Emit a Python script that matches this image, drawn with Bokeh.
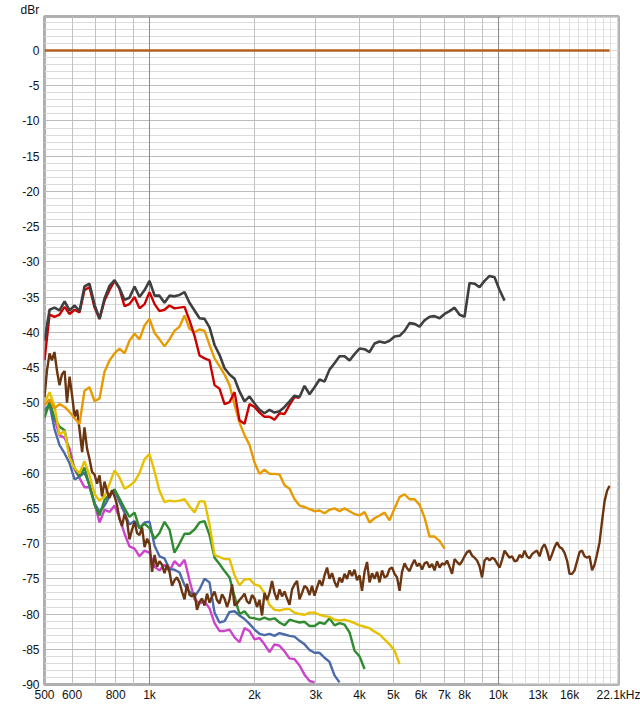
from bokeh.plotting import figure
from bokeh.models import FixedTicker, Grid, BoxAnnotation, Range1d
from bokeh.embed import file_html
from bokeh.resources import INLINE

# frequency grid (Hz); smooth traces use every second point
freq = [
    500, 508, 517, 525, 534, 543, 552, 561, 571, 580, 590, 600, 610, 620, 630, 641, 651, 662, 673, 684, 696,
    707, 719, 731, 743, 755, 768, 781, 794, 807, 820, 834, 848, 862, 876, 891, 906, 921, 936, 952, 968, 984,
    1000, 1017, 1034, 1051, 1068, 1086, 1104, 1122, 1141, 1160, 1179, 1199, 1219, 1239, 1260, 1281, 1302, 1324,
    1346, 1368, 1391, 1414, 1438, 1462, 1486, 1511, 1536, 1561, 1587, 1614, 1641, 1668, 1696, 1724, 1753, 1782,
    1811, 1842, 1872, 1903, 1935, 1967,
    2000, 2033, 2067, 2102, 2136, 2172, 2208, 2245, 2282, 2320, 2359, 2398, 2438, 2479, 2520, 2562, 2604, 2648,
    2692, 2737, 2782, 2828, 2876, 2923, 2972, 3022, 3072, 3123, 3175, 3228, 3281, 3336, 3391, 3448, 3505, 3563,
    3623, 3683, 3745, 3807, 3870, 3934,
    4000, 4066, 4134, 4203, 4273, 4344, 4416, 4490, 4565, 4641, 4718, 4796, 4876, 4957, 5040, 5124, 5209, 5295,
    5384, 5473, 5564, 5657, 5751, 5846, 5944, 6043, 6143, 6245, 6350, 6455, 6563, 6672, 6783, 6896, 7011, 7127,
    7246, 7367, 7489, 7614, 7740, 7869,
    8000, 8133, 8269, 8406, 8546, 8688, 8833, 8980, 9129, 9281, 9436, 9593, 9752, 9914, 10079, 10247, 10418,
    10591, 10767, 10946, 11128, 11313, 11502, 11693, 11888, 12085, 12287, 12491, 12699, 12910, 13125, 13343,
    13566, 13791, 14021, 14254, 14492, 14733, 14978, 15227, 15481, 15738,
    16000, 16266, 16537, 16812, 17091, 17376, 17665, 17958, 18258, 18562, 18870, 19184, 19504, 19828, 20158,
    20493, 20834,
]

flat_freq = [500, 20834]
flat_db = [0, 0]

grey_db = [
    -41.2, -36.8, -36.5, -36.9, -35.6, -36.9, -36.2, -37.0, -33.5, -33.1,
    -36.1, -38.1, -35.2, -33.4, -32.6, -33.7, -35.4, -35.1, -33.5, -35.0,
    -34.0, -32.7, -34.8, -34.8, -35.8, -34.8, -34.9, -34.7, -34.3, -35.8,
    -36.9, -38.0, -38.1, -39.3, -41.8, -43.2, -45.1, -46.0, -46.6, -48.4,
    -49.8, -49.1, -50.1, -51.0, -51.5, -51.0, -51.4, -51.2, -50.6, -49.8,
    -49.0, -49.2, -47.6, -48.8, -47.8, -46.7, -47.0, -45.3, -44.4, -43.4,
    -43.4, -44.0, -43.1, -42.3, -42.4, -42.8, -41.6, -41.3, -41.5, -41.2,
    -40.6, -40.5, -39.8, -38.7, -38.8, -39.2, -38.3, -37.8, -37.7, -38.0,
    -37.4, -37.0, -36.5, -37.5, -37.8, -33.0, -33.1, -33.6, -32.7, -32.0,
    -32.2, -34.0, -35.5,
]

red_db = [
    -44.0, -37.5, -37.8, -37.5, -36.4, -37.4, -36.8, -37.2, -34.0, -33.6,
    -36.5, -38.1, -35.5, -34.0, -32.7, -33.8, -36.3, -36.0, -35.0, -36.6,
    -36.0, -34.3, -36.0, -37.0, -36.8, -36.2, -36.6, -36.5, -36.4, -38.3,
    -40.5, -43.3, -43.7, -44.0, -47.5, -48.0, -50.2, -49.9, -48.5, -52.5,
    -53.0, -50.2, -50.6, -51.4, -52.0, -52.0, -52.4, -51.5, -51.6, -50.3,
    -49.2, -49.3,
]

orange_db = [
    -50.4, -49.5, -50.8, -50.2, -50.6, -51.3, -52.2, -53.0, -48.3, -47.8,
    -49.8, -49.4, -45.6, -44.0, -43.0, -42.3, -43.0, -41.2, -40.2, -41.0,
    -39.0, -38.1, -40.1, -41.0, -42.0, -41.0, -39.8, -39.2, -37.6, -39.5,
    -40.0, -39.6, -39.8, -41.8, -43.7, -44.8, -46.0, -47.5, -50.3, -52.8,
    -54.6, -56.0, -58.5, -60.1, -59.5, -60.1, -60.1, -60.2, -61.7, -62.2,
    -63.7, -64.6, -64.8, -65.1, -65.4, -65.3, -65.7, -65.2, -65.0, -65.4,
    -65.0, -65.4, -65.8, -66.0, -65.5, -67.0, -66.4, -66.0, -65.6, -66.7,
    -65.0, -63.4, -63.0, -63.7, -63.7, -64.5, -66.3, -69.0, -69.0, -69.6,
    -70.7,
]

yellow_db = [
    -50.0, -48.5, -50.5, -54.5, -54.0, -57.8, -59.3, -60.0, -58.3, -60.3,
    -63.0, -63.9, -63.3, -61.5, -59.6, -60.6, -62.2, -61.8, -61.2, -60.0,
    -58.0, -57.3, -59.8, -62.5, -64.1, -63.9, -64.0, -63.9, -63.7, -64.7,
    -65.6, -64.0, -64.0, -67.3, -71.6, -71.9, -72.2, -72.2, -74.5, -75.9,
    -75.1, -75.0, -75.8, -76.0, -77.0, -78.7, -79.4, -79.5, -79.3, -79.3,
    -79.8, -80.0, -80.1, -79.8, -79.8, -80.1, -80.3, -80.4, -80.8, -80.9,
    -80.8, -81.0, -81.3, -81.6, -81.8, -82.0, -82.5, -82.9, -83.6, -84.3,
    -85.2, -87.1,
]

green_db = [
    -52.1, -50.0, -52.2, -53.4, -53.9, -57.5, -59.3, -60.5, -59.2, -61.8,
    -64.5, -66.0, -63.8, -63.0, -62.3, -63.6, -65.0, -66.2, -65.6, -67.8,
    -67.2, -67.8, -69.3, -68.5, -66.9, -68.0, -71.3, -70.0, -68.6, -68.6,
    -68.0, -67.0, -66.8, -68.8, -72.0, -72.9, -73.9, -74.8, -77.5, -80.0,
    -79.6, -80.5, -80.6, -80.8, -80.5, -80.8, -80.6, -81.2, -81.6, -80.8,
    -81.0, -81.2, -81.1, -81.7, -81.7, -81.2, -81.4, -80.6, -81.6, -81.3,
    -81.5, -82.6, -85.2, -86.0, -87.8,
]

blue_db = [
    -51.1, -50.2, -53.7, -56.0, -57.2, -58.6, -60.9, -60.5, -59.9, -61.7,
    -64.3, -65.5, -64.6, -63.3, -62.4, -64.1, -65.6, -67.3, -66.8, -67.8,
    -67.0, -66.9, -70.3, -71.8, -72.1, -73.6, -73.7, -74.1, -75.9, -76.8,
    -77.5, -76.5, -75.0, -75.5, -79.8, -81.2, -81.0, -79.7, -79.6, -80.2,
    -80.7, -81.4, -82.2, -82.8, -83.0, -82.8, -83.1, -82.7, -82.9, -83.1,
    -83.2, -83.8, -84.3, -85.1, -85.5, -85.5, -86.2, -86.8, -88.7, -89.7,
]

magenta_db = [
    -50.1, -49.8, -52.3, -54.6, -55.0, -56.5, -59.5, -60.7, -62.0, -62.0,
    -64.3, -67.0, -65.2, -65.5, -64.6, -66.3, -68.6, -70.4, -70.7, -71.8,
    -71.0, -71.3, -73.3, -73.8, -73.0, -73.9, -72.5, -73.2, -72.3, -75.2,
    -77.9, -78.5, -78.2, -79.2, -81.3, -82.4, -82.4, -82.2, -83.3, -84.0,
    -82.0, -82.4, -83.6, -83.4, -84.3, -85.4, -84.3, -84.5, -85.3, -86.3,
    -86.4, -87.3, -88.6, -89.5, -89.7,
]

# brown trace uses the full (fine) frequency grid
brown_db = [
    -49.2, -45.5, -43.0, -44.0, -42.8, -45.5, -47.5, -46.0, -45.5, -50.0,
    -46.3, -49.0, -52.0, -51.0, -53.8, -57.0, -53.5, -56.5, -58.0, -59.8,
    -60.2, -61.5, -60.3, -63.3, -61.2, -62.5, -63.5, -62.4, -63.3, -64.5,
    -66.5, -67.5, -65.8, -66.8, -69.4, -68.0, -66.9, -68.5, -68.8, -67.7,
    -70.5, -69.3, -70.0, -74.0, -71.6, -73.3, -72.5, -73.0, -74.2, -73.0,
    -74.0, -76.0, -75.2, -74.8, -75.5, -76.8, -77.9, -75.7, -77.3, -77.5,
    -77.0, -79.4, -78.3, -77.8, -78.8, -77.1, -78.4, -77.5, -76.8, -78.0,
    -78.5, -77.2, -77.8, -79.0, -77.9, -75.8, -78.8, -78.5, -78.0, -77.6,
    -77.1, -78.2, -78.5, -77.3, -77.8, -79.0, -78.0, -80.2, -77.0, -78.0,
    -77.0, -75.3, -77.0, -78.0, -76.5, -77.5, -76.8, -77.8, -78.7, -76.5,
    -75.8, -75.3, -77.9, -77.0, -76.0, -76.3, -77.3, -76.0, -77.4, -76.2,
    -75.2, -76.0, -74.5, -73.4, -75.0, -74.2, -75.4, -76.2, -74.8, -75.5,
    -74.3, -75.0, -73.8, -74.6, -73.7, -75.2, -74.5, -76.7, -74.0, -72.6,
    -75.5, -74.2, -75.0, -74.0, -75.5, -73.8, -74.8, -74.6, -73.6, -73.4,
    -74.3, -74.8, -76.7, -74.0, -72.8, -73.5, -73.9, -73.0, -72.3, -73.2,
    -72.8, -73.7, -72.8, -72.6, -73.4, -72.9, -73.8, -72.5, -73.4, -72.8,
    -73.0, -72.4, -73.3, -74.3, -72.2, -72.6, -73.0, -72.5, -71.8, -71.2,
    -71.0, -71.7, -72.0, -72.4, -73.2, -74.8, -72.4, -72.0, -72.4, -72.0,
    -72.2, -72.8, -73.4, -72.3, -71.0, -71.5, -72.0, -71.8, -72.5, -72.4,
    -71.6, -72.0, -71.0, -71.8, -72.1, -71.5, -71.2, -71.0, -71.8, -70.6,
    -70.1, -71.0, -72.4, -71.5, -70.5, -69.8, -70.5, -70.7, -71.3, -72.4,
    -74.3, -74.3, -73.8, -72.5, -71.2, -71.0, -71.8, -72.0, -71.8, -73.8,
    -73.0, -71.5, -69.8, -66.8, -64.0, -62.5, -61.8,
]

x_tick_values = [500, 600, 800, 1000, 2000, 3000, 4000, 5000, 6000, 7000, 8000, 10000, 13000, 16000, 22100]
x_tick_labels = ["500", "600", "800", "1k", "2k", "3k", "4k", "5k", "6k", "7k", "8k", "10k", "13k", "16k", "22.1kHz"]
x_minor_grid = [600, 700, 800, 900, 2000, 3000, 4000, 5000, 6000, 7000, 8000, 9000,
                11000, 12000, 13000, 14000, 15000, 16000, 17000, 18000, 19000, 20000, 21000]
x_major_grid = [1000, 10000]
y_ticks = list(range(-90, 1, 5))
y_minor_grid = list(range(-89, 5))

FONT = "Liberation Sans"

p = figure(x_axis_type="log", x_range=Range1d(500, 22100), y_range=Range1d(-90, 4.83),
           frame_width=574, frame_height=668,
           min_border_left=44, min_border_top=16, min_border_right=22, min_border_bottom=22,
           output_backend="svg", toolbar_location=None)
p.background_fill_color = "white"
p.border_fill_color = "white"
p.outline_line_color = "#b0b0b0"
p.outline_line_width = 3

p.title.text = "dBr"
p.title.align = "left"
p.title.offset = -24
p.title.standoff = 0
p.title.text_font = FONT
p.title.text_font_size = "12px"
p.title.text_font_style = "normal"
p.title.text_color = "#111111"

p.grid.visible = False

xax = p.xaxis[0]
xax.ticker = FixedTicker(ticks=x_tick_values)
xax.major_label_overrides = {v: t for v, t in zip(x_tick_values, x_tick_labels)}
xax.axis_line_color = None
xax.major_tick_line_color = None
xax.minor_tick_line_color = None
xax.major_tick_out = 0
xax.major_tick_in = 0
xax.minor_tick_out = 0
xax.major_label_standoff = 3
xax.major_label_text_font = FONT
xax.major_label_text_font_size = "12px"
xax.major_label_text_color = "#111111"

yax = p.yaxis[0]
yax.ticker = FixedTicker(ticks=y_ticks)
yax.major_label_overrides = {v: str(v) for v in y_ticks}
yax.axis_line_color = None
yax.major_tick_line_color = None
yax.minor_tick_line_color = None
yax.major_tick_out = 0
yax.major_tick_in = 0
yax.minor_tick_out = 0
yax.major_label_standoff = 5
yax.major_label_text_font = FONT
yax.major_label_text_font_size = "12px"
yax.major_label_text_color = "#111111"

p.add_layout(Grid(dimension=1, ticker=FixedTicker(ticks=y_minor_grid), grid_line_color="#dadada", grid_line_width=1))
p.add_layout(Grid(dimension=0, ticker=FixedTicker(ticks=x_minor_grid), grid_line_color="#c2c2c2", grid_line_width=1))
p.add_layout(Grid(dimension=1, ticker=FixedTicker(ticks=y_ticks), grid_line_color="#bcbcbc", grid_line_width=1))
p.add_layout(Grid(dimension=0, ticker=FixedTicker(ticks=x_major_grid), grid_line_color="#8a8a8a", grid_line_width=1))
p.add_layout(BoxAnnotation(left=10150, fill_color="white", fill_alpha=0.45, line_alpha=0, level="underlay"))

LW = 2.4
coarse = freq[::2]
traces = [
    (magenta_db, "#cc44cc"),
    (blue_db, "#4a6aaa"),
    (green_db, "#2e8b2e"),
    (yellow_db, "#e8c000"),
]
for vals, col in traces:
    p.line(coarse[:len(vals)], vals, line_color=col, line_width=LW)
p.line(freq[:len(brown_db)], brown_db, line_color="#6a3510", line_width=LW)
p.line(coarse[:len(orange_db)], orange_db, line_color="#e89a00", line_width=LW)
p.line(coarse[:len(red_db)], red_db, line_color="#cc0000", line_width=LW)
p.line(coarse[:len(grey_db)], grey_db, line_color="#3f3f3f", line_width=2.6)
p.line(flat_freq, flat_db, line_color="#b3601f", line_width=2.6)

open("out.html", "w").write(file_html(p, INLINE))
